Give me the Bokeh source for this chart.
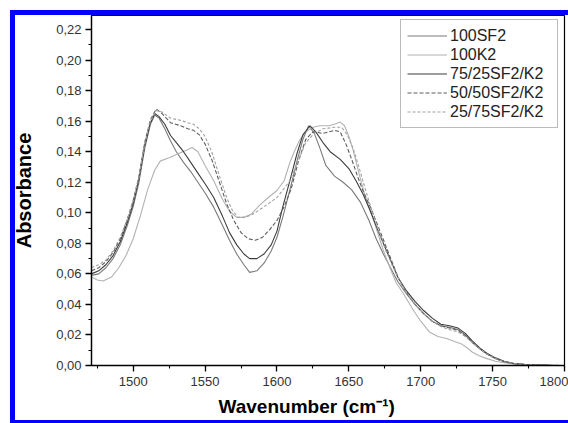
from bokeh.plotting import figure
from bokeh.models import (Range1d, SingleIntervalTicker, CustomJSTickFormatter,
                          Legend, LegendItem, Title, InlineStyleSheet)
from bokeh.embed import file_html
from bokeh.resources import INLINE

# ---- data ----
wn_sf2 = [1471,1476,1481,1486,1491,1496,1500,1504,1508,1512,1515,1518,1522,1526,1530,
          1535,1540,1545,1550,1556,1562,1567,1572,1577,1581,1586,1591,1596,1600,1604,
          1609,1614,1618,1622,1626,1630,1634,1640,1646,1652,1658,1664,1669,1674,1679,
          1684,1690,1696,1702,1708,1714,1720,1726,1731,1736,1741,1746,1752,1758,1765,
          1775,1790,1800]
ab_sf2 = [0.059,0.060,0.064,0.070,0.079,0.092,0.104,0.120,0.142,0.158,0.164,0.162,0.155,0.147,0.140,
          0.133,0.127,0.120,0.113,0.1037,0.092,0.082,0.073,0.066,0.061,0.062,0.067,0.075,0.084,0.097,
          0.115,0.134,0.148,0.157,0.152,0.142,0.131,0.124,0.120,0.115,0.107,0.095,0.083,0.073,0.064,
          0.055,0.047,0.040,0.034,0.029,0.026,0.025,0.0235,0.020,0.015,0.011,0.0075,0.0045,0.0025,0.0012,
          0.0004,0.0001,0.0]

wn_k2 = [1471,1475,1479,1485,1490,1495,1500,1505,1510,1515,1519,1525,1532,1537,1541,
         1545,1550,1556,1562,1567,1572,1577,1582,1588,1594,1600,1605,1609,1612,1616,
         1620,1625,1630,1636,1640,1644,1647,1650,1653,1657,1661,1665,1670,1674,1679,
         1683,1688,1695,1700,1706,1712,1718,1724,1728,1732,1736,1741,1746,1752,1758,
         1765,1775,1790,1800]
ab_k2 = [0.058,0.056,0.0553,0.058,0.064,0.072,0.083,0.098,0.115,0.128,0.134,0.136,0.139,0.141,0.1428,
         0.140,0.131,0.121,0.109,0.101,0.097,0.097,0.099,0.105,0.110,0.1146,0.121,0.133,0.140,0.148,
         0.153,0.156,0.157,0.157,0.158,0.1594,0.157,0.150,0.141,0.126,0.112,0.1015,0.087,0.0753,0.063,
         0.054,0.047,0.036,0.029,0.022,0.019,0.0177,0.0155,0.0143,0.0118,0.0087,0.0062,0.0045,0.0028,0.0018,
         0.001,0.0004,0.0001,0.0]

wn_7525 = [1471,1476,1481,1486,1491,1496,1500,1504,1508,1512,1515,1518,1522,1526,1530,
           1535,1540,1545,1550,1556,1562,1567,1572,1577,1581,1586,1591,1596,1600,1604,
           1609,1614,1618,1623,1627,1632,1637,1644,1650,1655,1660,1665,1670,1674,1679,
           1684,1690,1696,1702,1708,1714,1720,1726,1731,1736,1741,1746,1752,1758,1765,
           1775,1790,1800]
ab_7525 = [0.060,0.062,0.066,0.072,0.081,0.094,0.106,0.122,0.144,0.159,0.165,0.163,0.158,0.1506,0.146,
           0.140,0.133,0.126,0.119,0.110,0.098,0.087,0.079,0.073,0.070,0.070,0.073,0.079,0.088,0.1037,
           0.121,0.139,0.151,0.157,0.153,0.146,0.140,0.135,0.129,0.121,0.112,0.101,0.089,0.080,0.069,
           0.058,0.049,0.042,0.036,0.031,0.027,0.026,0.0245,0.021,0.016,0.0115,0.008,0.005,0.0028,0.0013,
           0.0004,0.0001,0.0]

wn_5050 = [1471,1476,1481,1486,1491,1496,1500,1504,1508,1512,1516,1520,1526,1533,1538,
           1542,1546,1550,1555,1560,1565,1570,1575,1580,1585,1590,1595,1600,1605,1610,
           1615,1620,1625,1632,1640,1644,1648,1652,1656,1660,1665,1670,1675,1680,1685,
           1690,1696,1702,1708,1714,1720,1726,1731,1736,1741,1746,1752,1758,1765,1775,
           1790,1800]
ab_5050 = [0.062,0.064,0.068,0.074,0.083,0.096,0.108,0.124,0.146,0.161,0.168,0.165,0.159,0.157,0.155,
           0.154,0.151,0.145,0.134,0.120,0.106,0.095,0.087,0.083,0.082,0.084,0.089,0.095,0.104,0.116,
           0.134,0.148,0.153,0.152,0.154,0.153,0.145,0.135,0.124,0.114,0.1037,0.092,0.080,0.068,0.056,
           0.048,0.040,0.034,0.029,0.026,0.0245,0.023,0.0195,0.015,0.011,0.0075,0.0045,0.0025,0.0012,0.0004,
           0.0001,0.0]

wn_2575 = [1471,1476,1481,1486,1491,1496,1500,1504,1508,1512,1516,1520,1526,1533,1538,
           1542,1546,1550,1555,1560,1565,1569,1573,1578,1583,1588,1594,1600,1605,1609,
           1614,1620,1626,1632,1640,1645,1649,1653,1657,1661,1665,1670,1675,1680,1685,
           1690,1696,1702,1708,1714,1720,1726,1731,1736,1741,1746,1752,1758,1765,1775,
           1790,1800]
ab_2575 = [0.064,0.066,0.069,0.075,0.084,0.096,0.108,0.123,0.145,0.160,0.167,0.166,0.162,0.1605,0.159,
           0.158,0.155,0.150,0.139,0.124,0.110,0.1015,0.097,0.097,0.099,0.102,0.106,0.110,0.116,0.121,
           0.132,0.146,0.152,0.155,0.156,0.156,0.151,0.142,0.130,0.117,0.1045,0.090,0.077,0.066,0.056,
           0.048,0.040,0.034,0.029,0.0255,0.0235,0.022,0.019,0.015,0.011,0.0075,0.0045,0.0025,0.0012,0.0004,
           0.0001,0.0]

series_names = ["100SF2", "100K2", "75/25SF2/K2", "50/50SF2/K2", "25/75SF2/K2"]

FONT = "Liberation Sans"

p = figure(width=568, height=423, x_range=Range1d(1471, 1800), y_range=Range1d(0, 0.2292),
           output_backend="svg", toolbar_location=None,
           min_border_left=91, min_border_right=4, min_border_top=15, min_border_bottom=58)
p.background_fill_color = "white"
p.border_fill_color = "white"
p.outline_line_color = "black"
p.outline_line_width = 1.2
p.xgrid.visible = False
p.ygrid.visible = False

specs = [
    (wn_sf2, ab_sf2, "#7a7a7a", "solid"),
    (wn_k2, ab_k2, "#b2b2b2", "solid"),
    (wn_7525, ab_7525, "#3c3c3c", "solid"),
    (wn_5050, ab_5050, "#5e5e5e", "4 2"),
    (wn_2575, ab_2575, "#a0a0a0", "3 2"),
]
items = []
for name, (xs, ys, col, dash) in zip(series_names, specs):
    r = p.line(xs, ys, line_color=col, line_width=1.1, line_dash=dash)
    items.append(LegendItem(label=name, renderers=[r]))

# axes
for ax in (p.xaxis[0], p.yaxis[0]):
    ax.axis_line_color = "black"
    ax.axis_line_width = 1.3
    ax.major_tick_line_color = "black"
    ax.minor_tick_line_color = "black"
    ax.major_tick_line_width = 1.3
    ax.minor_tick_line_width = 1.1
    ax.major_tick_in = 0
    ax.major_tick_out = 6
    ax.minor_tick_in = 0
    ax.minor_tick_out = 3
    ax.major_label_text_font = FONT
    ax.major_label_text_font_size = "13px"
    ax.major_label_text_color = "#333333"

p.xaxis[0].ticker = SingleIntervalTicker(interval=50, num_minor_ticks=2)
p.xaxis[0].major_label_standoff = 5
p.yaxis[0].ticker = SingleIntervalTicker(interval=0.02, num_minor_ticks=2)
p.yaxis[0].formatter = CustomJSTickFormatter(code="return tick.toFixed(2).replace('.', ',');")
p.yaxis[0].major_label_standoff = 4
p.yaxis[0].axis_label = "Absorbance"
p.yaxis[0].axis_label_text_font = FONT
p.yaxis[0].axis_label_text_font_size = "20px"
p.yaxis[0].axis_label_text_font_style = "bold"
p.yaxis[0].axis_label_text_color = "black"
p.yaxis[0].axis_label_standoff = 18

xt = Title(text="Wavenumber (cm\u207b\u00b9)", align="left", offset=127,
           text_font=FONT, text_font_size="19px", text_font_style="bold",
           text_color="black", standoff=11)
p.add_layout(xt, "below")

legend = Legend(items=items, location=(309, 237), orientation="vertical",
                label_text_font=FONT, label_text_font_size="16px", label_text_color="#222222",
                glyph_width=40, glyph_height=19, label_height=19, label_width=101,
                label_standoff=3, padding=6, spacing=0, margin=0,
                border_line_color="#777777", border_line_width=1,
                background_fill_color="white", background_fill_alpha=1)
p.add_layout(legend, "center")

# blue highlight frame around the picture (top, left, bottom edges)
p.stylesheets = [InlineStyleSheet(css="""
:host { position: relative; }
:host::after {
  content: "";
  position: absolute;
  left: 10px; top: 10px;
  width: 553px; height: 405px;
  border-left: 5px solid #0000ff;
  border-top: 5px solid #0000ff;
  border-bottom: 5px solid #0000ff;
  box-sizing: content-box;
  pointer-events: none;
  z-index: 100;
}
""")]

open("out.html", "w").write(file_html(p, INLINE))
